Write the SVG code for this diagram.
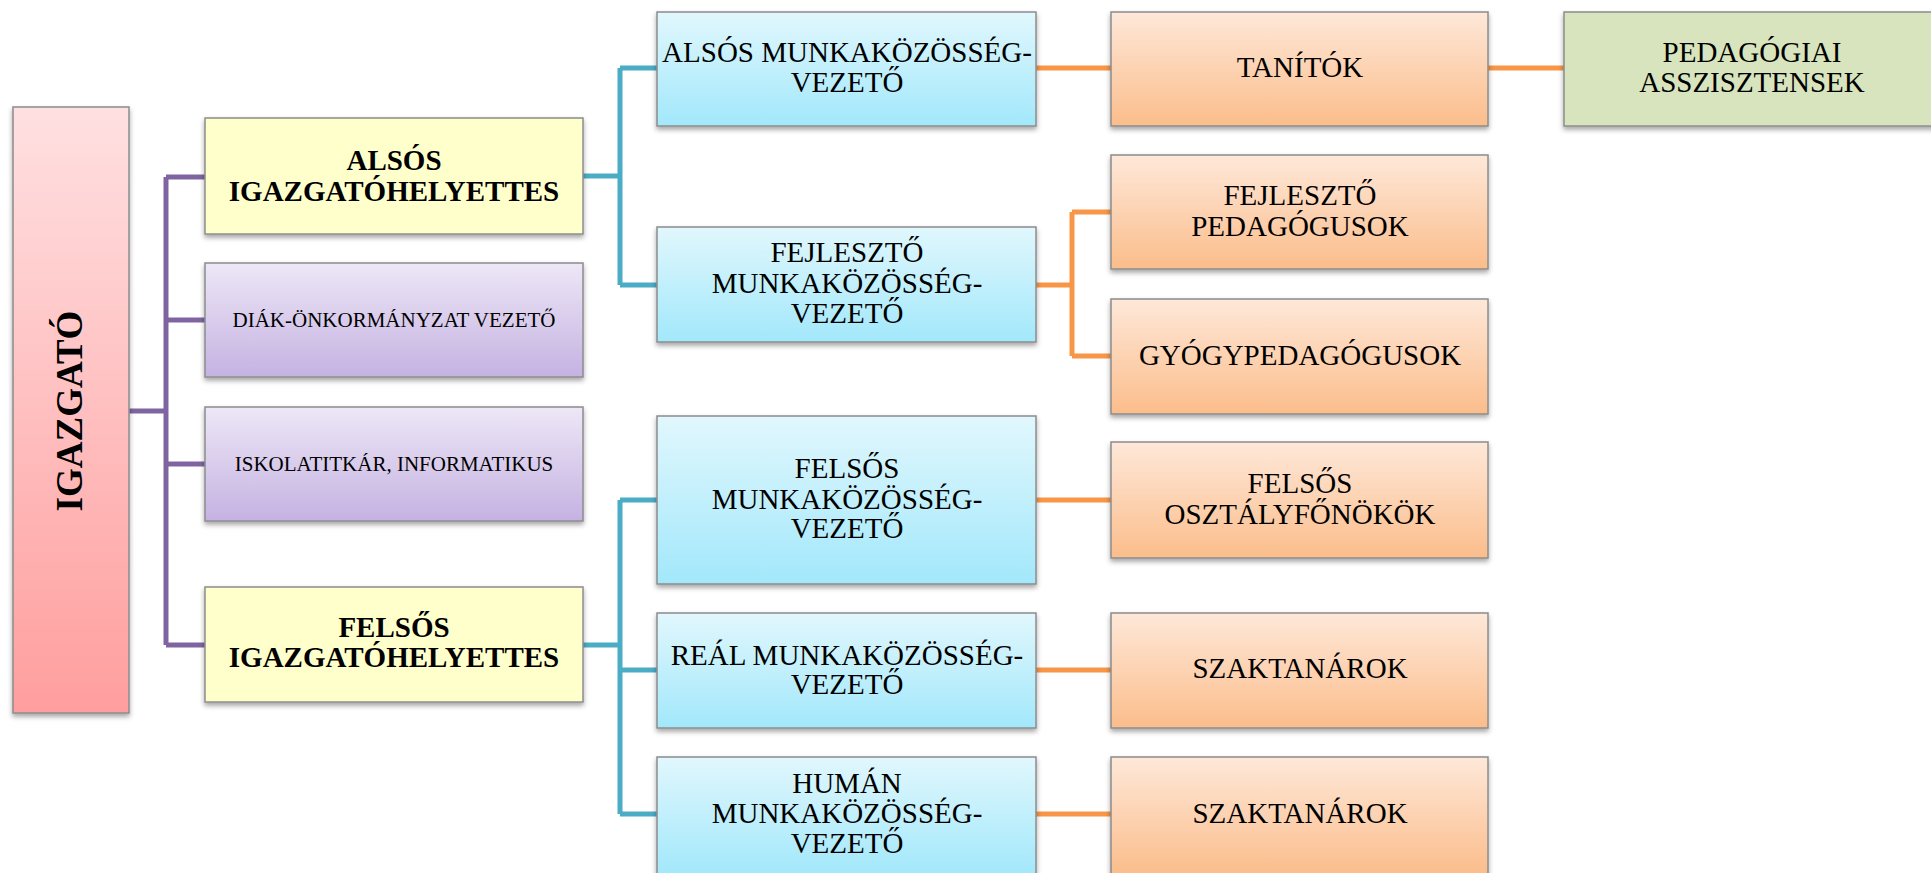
<svg xmlns="http://www.w3.org/2000/svg" width="1931" height="873" viewBox="0 0 1931 873">
<defs>
<linearGradient id="gPink" x1="0" y1="0" x2="0" y2="1"><stop offset="0" stop-color="#ffe0e1"/><stop offset="1" stop-color="#ff9e9e"/></linearGradient>
<linearGradient id="gPurple" x1="0" y1="0" x2="0" y2="1"><stop offset="0" stop-color="#ede7f6"/><stop offset="1" stop-color="#c5b2e2"/></linearGradient>
<linearGradient id="gBlue" x1="0" y1="0" x2="0" y2="1"><stop offset="0" stop-color="#e1f7fd"/><stop offset="1" stop-color="#a2e8fb"/></linearGradient>
<linearGradient id="gOrange" x1="0" y1="0" x2="0" y2="1"><stop offset="0" stop-color="#fee8d9"/><stop offset="1" stop-color="#fbbd8b"/></linearGradient>
<filter id="sh" x="-10%" y="-10%" width="120%" height="130%"><feDropShadow dx="0" dy="3" stdDeviation="2.5" flood-color="#000" flood-opacity="0.35"/></filter>
</defs>
<style>
.box{stroke:#8c8c8c;stroke-width:1.5;filter:url(#sh)}
.t{font-family:"Liberation Serif","Times New Roman",serif;font-size:29px;fill:#000;text-anchor:middle}
.b{font-weight:bold}
.s{font-size:21px}
.cp{fill:none;stroke:#8064a2;stroke-width:5}
.cb{fill:none;stroke:#4bacc6;stroke-width:5}
.co{fill:none;stroke:#f79646;stroke-width:5}
</style>
<g id="connectors">
<path class="cp" d="M129,411 H166 M166,177 V645 M166,177 H205 M166,320 H205 M166,464 H205 M166,645 H205"/>
<path class="cb" d="M583,176 H620 M620,68 V285 M620,68 H657 M620,285 H657"/>
<path class="cb" d="M583,645 H620 M620,500 V814 M620,500 H657 M620,670 H657 M620,814 H657"/>
<path class="co" d="M1036,68 H1111 M1488,68 H1564"/>
<path class="co" d="M1036,285 H1072 M1072,212 V356 M1072,212 H1111 M1072,356 H1111"/>
<path class="co" d="M1036,500 H1111 M1036,670 H1111 M1036,814 H1111"/>
</g>
<g id="igazgato"><rect class="box" x="13" y="107" width="116" height="606" fill="url(#gPink)"/><text class="t b" style="font-size:37px" transform="translate(82,411) rotate(-90)" x="0" y="0">IGAZGATÓ</text></g>
<g id="also-igh"><rect class="box" x="205" y="118" width="378" height="116" fill="#ffffcc"/><text class="t b" x="394" y="170">ALSÓS</text><text class="t b" x="394" y="201">IGAZGATÓHELYETTES</text></g>
<g id="diak"><rect class="box" x="205" y="263" width="378" height="114" fill="url(#gPurple)"/><text class="t s" x="394" y="327">DIÁK-ÖNKORMÁNYZAT VEZETŐ</text></g>
<g id="iskolatitkar"><rect class="box" x="205" y="407" width="378" height="114" fill="url(#gPurple)"/><text class="t s" x="394" y="471">ISKOLATITKÁR, INFORMATIKUS</text></g>
<g id="felso-igh"><rect class="box" x="205" y="587" width="378" height="115" fill="#ffffcc"/><text class="t b" x="394" y="637">FELSŐS</text><text class="t b" x="394" y="667">IGAZGATÓHELYETTES</text></g>
<g id="also-mk"><rect class="box" x="657" y="12" width="379" height="114" fill="url(#gBlue)"/><text class="t" x="847" y="62">ALSÓS MUNKAKÖZÖSSÉG-</text><text class="t" x="847" y="92">VEZETŐ</text></g>
<g id="fejl-mk"><rect class="box" x="657" y="227" width="379" height="115" fill="url(#gBlue)"/><text class="t" x="847" y="262">FEJLESZTŐ</text><text class="t" x="847" y="293">MUNKAKÖZÖSSÉG-</text><text class="t" x="847" y="323">VEZETŐ</text></g>
<g id="felso-mk"><rect class="box" x="657" y="416" width="379" height="168" fill="url(#gBlue)"/><text class="t" x="847" y="478">FELSŐS</text><text class="t" x="847" y="509">MUNKAKÖZÖSSÉG-</text><text class="t" x="847" y="538">VEZETŐ</text></g>
<g id="real-mk"><rect class="box" x="657" y="613" width="379" height="115" fill="url(#gBlue)"/><text class="t" x="847" y="665">REÁL MUNKAKÖZÖSSÉG-</text><text class="t" x="847" y="694">VEZETŐ</text></g>
<g id="human-mk"><rect class="box" x="657" y="757" width="379" height="118" fill="url(#gBlue)"/><text class="t" x="847" y="793">HUMÁN</text><text class="t" x="847" y="823">MUNKAKÖZÖSSÉG-</text><text class="t" x="847" y="853">VEZETŐ</text></g>
<g id="tanitok"><rect class="box" x="1111" y="12" width="377" height="114" fill="url(#gOrange)"/><text class="t" x="1300" y="77">TANÍTÓK</text></g>
<g id="fejl-ped"><rect class="box" x="1111" y="155" width="377" height="114" fill="url(#gOrange)"/><text class="t" x="1300" y="205">FEJLESZTŐ</text><text class="t" x="1300" y="236">PEDAGÓGUSOK</text></g>
<g id="gyogyped"><rect class="box" x="1111" y="299" width="377" height="115" fill="url(#gOrange)"/><text class="t" x="1300" y="365">GYÓGYPEDAGÓGUSOK</text></g>
<g id="felso-oszt"><rect class="box" x="1111" y="442" width="377" height="116" fill="url(#gOrange)"/><text class="t" x="1300" y="493">FELSŐS</text><text class="t" x="1300" y="524">OSZTÁLYFŐNÖKÖK</text></g>
<g id="szak1"><rect class="box" x="1111" y="613" width="377" height="115" fill="url(#gOrange)"/><text class="t" x="1300" y="678">SZAKTANÁROK</text></g>
<g id="szak2"><rect class="box" x="1111" y="757" width="377" height="118" fill="url(#gOrange)"/><text class="t" x="1300" y="823">SZAKTANÁROK</text></g>
<g id="ped-asszisztens"><rect class="box" x="1564" y="12" width="372" height="114" fill="#d7e4bd"/><text class="t" x="1752" y="62">PEDAGÓGIAI</text><text class="t" x="1752" y="92">ASSZISZTENSEK</text></g>
</svg>
